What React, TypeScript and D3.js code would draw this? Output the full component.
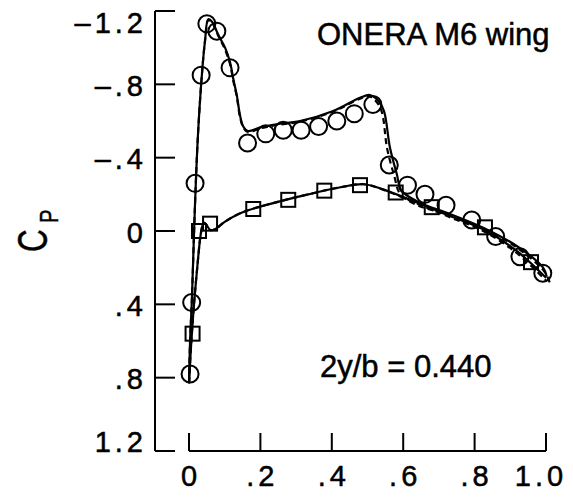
import React from "react";
import * as d3 from "d3";

// Measured surface pressure (circles: upper surface, squares: lower surface)
const upperX = [0.003, 0.0075, 0.017, 0.034, 0.05, 0.078, 0.115, 0.164, 0.215, 0.264, 0.314, 0.363, 0.414, 0.463, 0.515, 0.561, 0.612, 0.661, 0.72, 0.792, 0.859, 0.927, 0.991];
const upperCp = [0.78, 0.39, -0.26, -0.85, -1.13, -1.09, -0.89, -0.48, -0.53, -0.55, -0.55, -0.57, -0.6, -0.64, -0.69, -0.36, -0.25, -0.2, -0.14, -0.06, 0.03, 0.14, 0.23];

const lowerX = [0.01, 0.028, 0.059, 0.18, 0.278, 0.379, 0.479, 0.579, 0.68, 0.829, 0.958];
const lowerCp = [0.56, 0.0, -0.04, -0.12, -0.17, -0.22, -0.25, -0.21, -0.13, -0.02, 0.17];

// Computed distributions: solid and dashed
const solidUpperX = [0.0, 0.003, 0.008, 0.016, 0.025, 0.036, 0.045, 0.054, 0.065, 0.082, 0.101, 0.115, 0.124, 0.134, 0.143, 0.152, 0.165, 0.2, 0.245, 0.311, 0.404, 0.479, 0.507, 0.53, 0.546, 0.563, 0.582, 0.596, 0.652, 0.722, 0.824, 0.918, 0.992, 1.002];
const solidUpperCp = [0.83, 0.6, 0.38, -0.1, -0.52, -0.85, -1.04, -1.155, -1.14, -1.07, -1.0, -0.92, -0.83, -0.74, -0.63, -0.57, -0.545, -0.565, -0.582, -0.6, -0.655, -0.727, -0.742, -0.71, -0.655, -0.454, -0.311, -0.218, -0.15, -0.1, -0.018, 0.082, 0.2, 0.25];

const dashUpperX = [0.0, 0.003, 0.008, 0.016, 0.025, 0.036, 0.045, 0.054, 0.065, 0.082, 0.101, 0.115, 0.124, 0.134, 0.143, 0.152, 0.165, 0.2, 0.245, 0.311, 0.404, 0.479, 0.503, 0.525, 0.54, 0.555, 0.575, 0.592, 0.64, 0.72, 0.824, 0.918, 0.995, 1.012];
const dashUpperCp = [0.83, 0.6, 0.38, -0.1, -0.52, -0.85, -1.04, -1.15, -1.135, -1.065, -0.99, -0.91, -0.82, -0.73, -0.62, -0.565, -0.54, -0.56, -0.578, -0.597, -0.652, -0.722, -0.737, -0.705, -0.65, -0.45, -0.3, -0.2, -0.14, -0.092, -0.012, 0.09, 0.22, 0.29];

const solidLowerX = [0.0, 0.006, 0.014, 0.024, 0.032, 0.038, 0.043, 0.05, 0.06, 0.073, 0.1, 0.147, 0.241, 0.334, 0.428, 0.49, 0.544, 0.638, 0.731, 0.824, 0.918, 1.0];
const solidLowerCp = [0.83, 0.62, 0.4, 0.18, 0.03, -0.03, -0.045, -0.03, -0.005, -0.01, -0.05, -0.1, -0.155, -0.2, -0.24, -0.255, -0.227, -0.155, -0.082, -0.009, 0.109, 0.255];

const dashLowerX = [0.0, 0.006, 0.014, 0.024, 0.032, 0.038, 0.043, 0.05, 0.06, 0.073, 0.1, 0.147, 0.241, 0.334, 0.428, 0.49, 0.544, 0.638, 0.731, 0.824, 0.918, 1.0];
const dashLowerCp = [0.83, 0.62, 0.4, 0.18, 0.03, -0.03, -0.045, -0.03, -0.005, -0.01, -0.05, -0.1, -0.155, -0.2, -0.24, -0.255, -0.225, -0.15, -0.075, 0.0, 0.12, 0.27];

const xTicks = [0, 0.2, 0.4, 0.6, 0.8, 1.0];
const xTickLabels = ["0", ".2", ".4", ".6", ".8", "1.0"];
const yTicks = [-1.2, -0.8, -0.4, 0, 0.4, 0.8, 1.2];
const yTickLabels = ["\u20131.2", "\u2013.8", "\u2013.4", "0", ".4", ".8", "1.2"];

const FONT = "'Liberation Sans', Arial, Helvetica, sans-serif";

export default function App() {
  const W = 573;
  const H = 502;
  const x = d3.scaleLinear().domain([0, 1]).range([189, 546]);
  const y = d3.scaleLinear().domain([-1.2, 1.2]).range([11, 451]);
  const axisX = 155;
  const axisY = 451;

  const line = d3
    .line<[number, number]>()
    .x((d) => x(d[0]))
    .y((d) => y(d[1]))
    .curve(d3.curveCatmullRom.alpha(0.5));

  const zip = (a: number[], b: number[]) => a.map((v, i) => [v, b[i]] as [number, number]);

  const curves = [
    { pts: zip(solidUpperX, solidUpperCp), dash: undefined },
    { pts: zip(solidLowerX, solidLowerCp), dash: undefined },
    { pts: zip(dashUpperX, dashUpperCp), dash: "6,4" },
    { pts: zip(dashLowerX, dashLowerCp), dash: "6,4" },
  ];

  const ls = 4;
  const sq = 14;
  const textStroke = { stroke: "#000", strokeWidth: 0.5 };

  return (
    <svg width={W} height={H} style={{ position: "absolute", left: 0, top: 0, background: "#fff" }}>
      <rect x={0} y={0} width={W} height={H} fill="#fff" />
      {/* y axis */}
      <line x1={axisX} x2={axisX} y1={y(-1.2)} y2={y(1.2)} stroke="#000" strokeWidth={2} />
      {yTicks.map((t, i) => (
        <line key={"yt" + i} x1={axisX} x2={axisX + 20} y1={y(t)} y2={y(t)} stroke="#000" strokeWidth={2} />
      ))}
      {yTicks.map((t, i) => {
        let base = y(t) + 11.5;
        if (i === 0) base = y(t) + 21.5;
        if (i === yTicks.length - 1) base = y(t) + 1;
        return (
          <text key={"yl" + i} x={143 + ls} y={base} textAnchor="end" fontFamily={FONT} fontSize={29} letterSpacing={ls} fill="#000" {...textStroke}>
            {yTickLabels[i]}
          </text>
        );
      })}
      {/* x axis */}
      <line x1={x(0)} x2={x(1)} y1={axisY} y2={axisY} stroke="#000" strokeWidth={2} />
      {xTicks.map((t, i) => (
        <line key={"xt" + i} x1={x(t)} x2={x(t)} y1={axisY} y2={axisY - 18} stroke="#000" strokeWidth={2} />
      ))}
      {xTicks.map((t, i) => (
        <text key={"xl" + i} x={x(t) + ls / 2 - (i === xTicks.length - 1 ? 7 : 0)} y={486} textAnchor="middle" fontFamily={FONT} fontSize={29} letterSpacing={ls} fill="#000" {...textStroke}>
          {xTickLabels[i]}
        </text>
      ))}
      {/* axis title C_P */}
      <g transform="translate(47,252) rotate(-90) scale(0.75,1)">
        <text x={0} y={0} fontFamily={FONT} fontSize={42} fill="#000" {...textStroke}>C</text>
      </g>
      <g transform="translate(58,223) rotate(-90) scale(0.8,1)">
        <text x={0} y={0} fontFamily={FONT} fontSize={25} fill="#000" {...textStroke}>P</text>
      </g>
      {/* annotations */}
      <text x={317} y={45} fontFamily={FONT} fontSize={31} fill="#000" {...textStroke}>ONERA M6 wing</text>
      <text x={320} y={377} fontFamily={FONT} fontSize={31} fill="#000" {...textStroke}>2y/b = 0.440</text>
      {/* computed curves */}
      {curves.map((c, i) => (
        <path key={"c" + i} d={line(c.pts) || ""} fill="none" stroke="#000" strokeWidth={2.2} strokeDasharray={c.dash} />
      ))}
      {/* experimental points */}
      {upperX.map((v, i) => (
        <circle key={"u" + i} cx={x(v)} cy={y(upperCp[i])} r={8.5} fill="none" stroke="#000" strokeWidth={2} />
      ))}
      {lowerX.map((v, i) => (
        <rect key={"l" + i} x={x(v) - sq / 2} y={y(lowerCp[i]) - sq / 2} width={sq} height={sq} fill="none" stroke="#000" strokeWidth={2} />
      ))}
    </svg>
  );
}
